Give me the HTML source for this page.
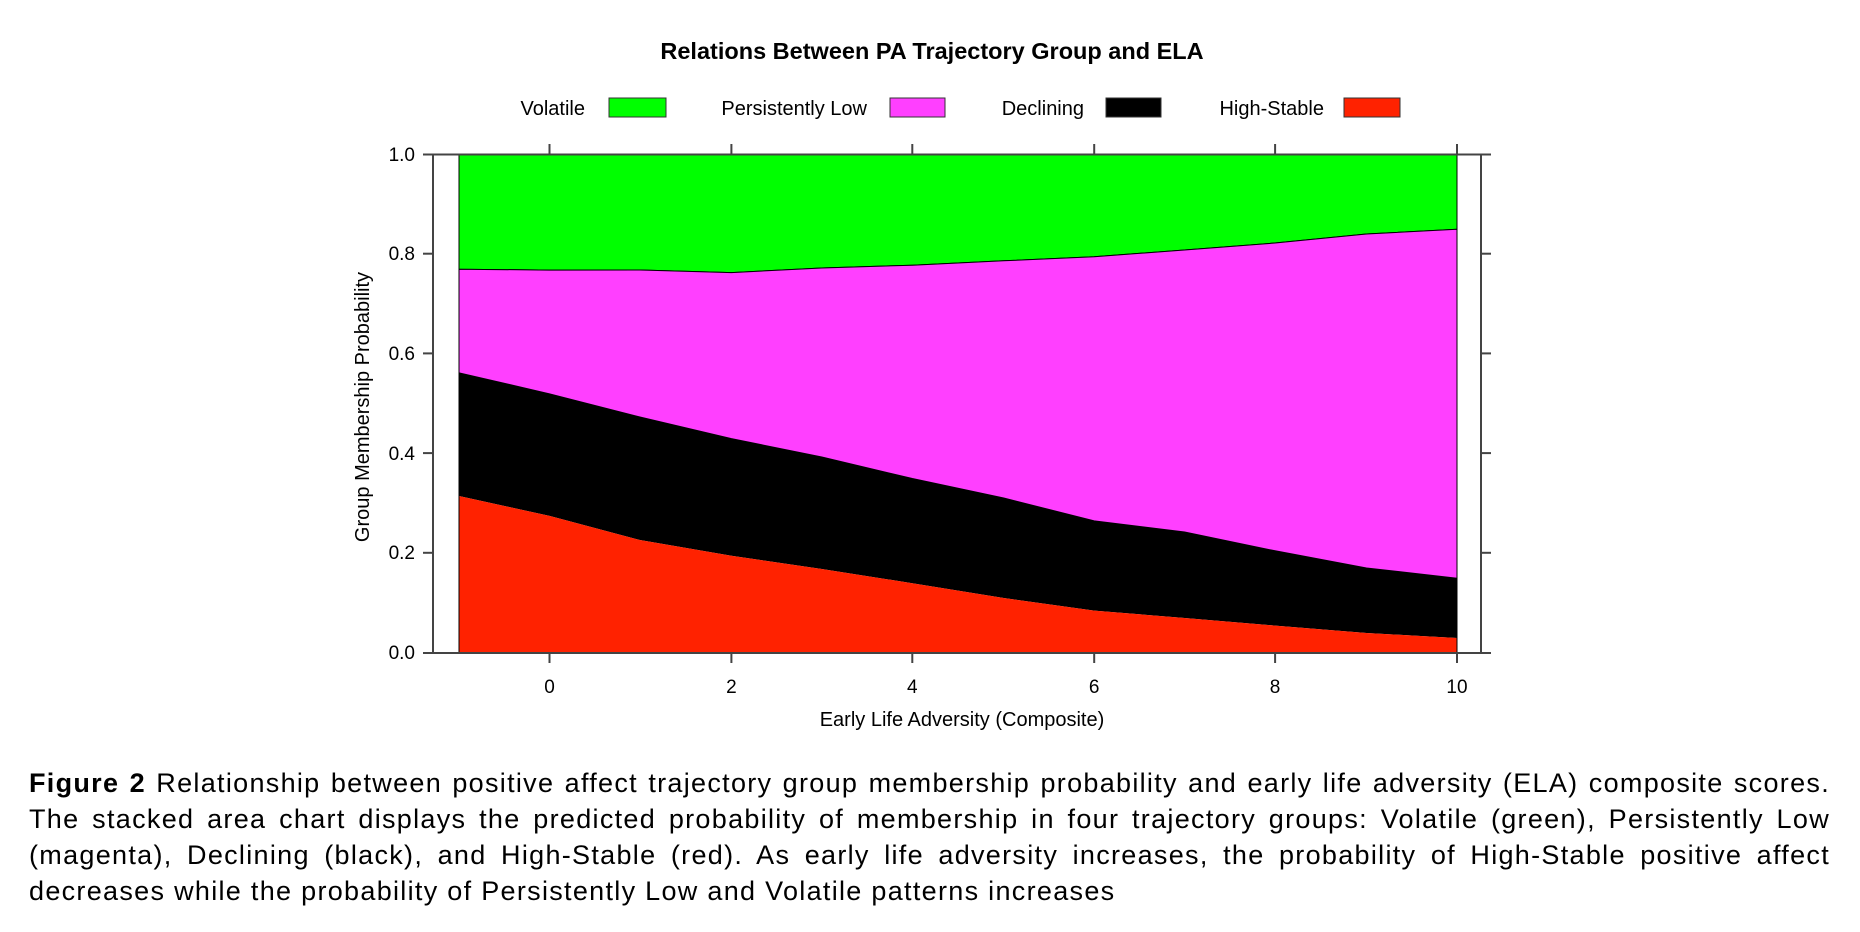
<!DOCTYPE html>
<html><head><meta charset="utf-8"><style>
body{margin:0;background:#fff;width:1860px;height:932px;overflow:hidden;position:relative}
.cap{position:absolute;left:29px;width:1801px;font-family:"Liberation Sans",sans-serif;font-size:27px;letter-spacing:1.3px;color:#000;line-height:36px}
.cap div{text-align:justify;text-align-last:justify;white-space:nowrap}
.cap div.l{text-align-last:left}
</style></head><body>
<svg width="1860" height="760" style="position:absolute;left:0;top:0" font-family="Liberation Sans, sans-serif">
<text x="932" y="59" font-size="23.5" font-weight="bold" text-anchor="middle">Relations Between PA Trajectory Group and ELA</text>
<g font-size="20">
<text x="585" y="115" text-anchor="end">Volatile</text>
<rect x="609" y="98" width="57" height="19" fill="#00ff00" stroke="#333"/>
<text x="867" y="115" text-anchor="end">Persistently Low</text>
<rect x="890" y="98" width="55" height="19" fill="#ff3fff" stroke="#333"/>
<text x="1084" y="115" text-anchor="end">Declining</text>
<rect x="1106" y="98" width="55" height="19" fill="#000" stroke="#333"/>
<text x="1324" y="115" text-anchor="end">High-Stable</text>
<rect x="1344" y="98" width="56" height="19" fill="#ff2200" stroke="#333"/>
</g>
<polygon fill="#00ff00" stroke="#000" stroke-width="1" points="459,154.5 1457,154.5 1457,229.3 1366.5,234 1275.1,243 1184.6,250 1094.2,256.7 1003.7,260.8 912.3,265.2 821.8,268 731.4,272.6 639.9,270 549.5,270.1 459,269.2"/>
<polygon fill="#ff3fff" stroke="#000" stroke-width="1" points="459,269.2 549.5,270.1 639.9,270 731.4,272.6 821.8,268 912.3,265.2 1003.7,260.8 1094.2,256.7 1184.6,250 1275.1,243 1366.5,234 1457,229.3 1457,578.2 1366.5,568 1275.1,550.8 1184.6,532 1094.2,520.9 1003.7,498 912.3,478.5 821.8,457 731.4,438.6 639.9,417 549.5,393.8 459,372.8"/>
<polygon fill="#000" points="459,372.8 549.5,393.8 639.9,417 731.4,438.6 821.8,457 912.3,478.5 1003.7,498 1094.2,520.9 1184.6,532 1275.1,550.8 1366.5,568 1457,578.2 1457,638 1366.5,633 1275.1,625.6 1184.6,618 1094.2,610.6 1003.7,598 912.3,583.2 821.8,569 731.4,555.8 639.9,540 549.5,515.9 459,496"/>
<polygon fill="#ff2200" points="459,496 549.5,515.9 639.9,540 731.4,555.8 821.8,569 912.3,583.2 1003.7,598 1094.2,610.6 1184.6,618 1275.1,625.6 1366.5,633 1457,638 1457,653 459,653"/>
<line x1="459" y1="154.5" x2="459" y2="653" stroke="#000"/>
<line x1="1457" y1="154.5" x2="1457" y2="653" stroke="#000"/>
<rect x="433" y="154.5" width="1048" height="498.5" fill="none" stroke="#444" stroke-width="2"/>
<g stroke="#444" stroke-width="2">
<line x1="423" y1="154.5" x2="1491" y2="154.5"/><line x1="423" y1="653" x2="1491" y2="653"/>
<line x1="423" y1="253.7" x2="433" y2="253.7"/><line x1="423" y1="353.4" x2="433" y2="353.4"/><line x1="423" y1="453.1" x2="433" y2="453.1"/><line x1="423" y1="552.8" x2="433" y2="552.8"/>
<line x1="1481" y1="253.7" x2="1491" y2="253.7"/><line x1="1481" y1="353.4" x2="1491" y2="353.4"/><line x1="1481" y1="453.1" x2="1491" y2="453.1"/><line x1="1481" y1="552.8" x2="1491" y2="552.8"/>
<line x1="549.5" y1="144" x2="549.5" y2="154"/><line x1="731.4" y1="144" x2="731.4" y2="154"/><line x1="912.3" y1="144" x2="912.3" y2="154"/><line x1="1094.2" y1="144" x2="1094.2" y2="154"/><line x1="1275.1" y1="144" x2="1275.1" y2="154"/><line x1="1457" y1="144" x2="1457" y2="154"/>
<line x1="549.5" y1="653" x2="549.5" y2="663"/><line x1="731.4" y1="653" x2="731.4" y2="663"/><line x1="912.3" y1="653" x2="912.3" y2="663"/><line x1="1094.2" y1="653" x2="1094.2" y2="663"/><line x1="1275.1" y1="653" x2="1275.1" y2="663"/><line x1="1457" y1="653" x2="1457" y2="663"/>
</g>
<g font-size="19" text-anchor="end">
<text x="415" y="161">1.0</text><text x="415" y="260">0.8</text><text x="415" y="360">0.6</text><text x="415" y="460">0.4</text><text x="415" y="559">0.2</text><text x="415" y="659">0.0</text>
</g>
<g font-size="19" text-anchor="middle">
<text x="549.5" y="693">0</text><text x="731.4" y="693">2</text><text x="912.3" y="693">4</text><text x="1094.2" y="693">6</text><text x="1275.1" y="693">8</text><text x="1457" y="693">10</text>
</g>
<g font-size="20" text-anchor="middle">
<text x="962" y="726">Early Life Adversity (Composite)</text>
<text transform="translate(369,407) rotate(-90)">Group Membership Probability</text>
</g>
</svg>
<div class="cap" style="top:765px">
<div><b>Figure 2</b> Relationship between positive affect trajectory group membership probability and early life adversity (ELA) composite scores.</div>
<div>The stacked area chart displays the predicted probability of membership in four trajectory groups: Volatile (green), Persistently Low</div>
<div>(magenta), Declining (black), and High-Stable (red). As early life adversity increases, the probability of High-Stable positive affect</div>
<div class="l">decreases while the probability of Persistently Low and Volatile patterns increases</div>
</div>
</body></html>
